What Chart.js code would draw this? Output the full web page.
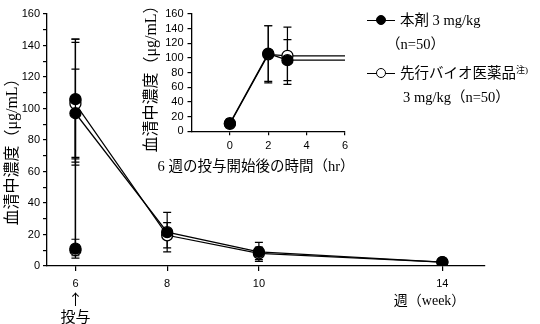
<!DOCTYPE html>
<html>
<head>
<meta charset="utf-8">
<script src="https://cdn.jsdelivr.net/npm/chart.js@4.4.0/dist/chart.umd.min.js"></script>
<style>
  html, body { margin: 0; padding: 0; background: #fff; }
  #wrap { position: relative; width: 540px; height: 324px; overflow: hidden; }
  #wrap canvas { position: absolute; left: 0; top: 0; }
  .leg { position: absolute; font-family: 'Liberation Serif', 'Noto Sans CJK JP', serif; font-size: 14.5px; line-height: 1; color: #000; white-space: nowrap; }
  .leg sup { font-size: 9px; vertical-align: 5px; }
  .ln { position: absolute; left: 367px; width: 28px; height: 1.4px; background: #000; }
  .dot { position: absolute; left: 376px; width: 8px; height: 8px; border: 1.4px solid #000; border-radius: 50%; }
</style>
</head>
<body>
<div id="wrap">
  <canvas id="mainChart" width="540" height="324"></canvas>
  <canvas id="insetChart" width="370" height="180"></canvas>

  <!-- leyenda -->
  <div class="ln" style="top:19.5px"></div>
  <div class="dot" style="top:15px; background:#000"></div>
  <div class="leg" style="left:400px; top:12.5px">本剤 3 mg/kg</div>
  <div class="leg" style="left:386px; top:36.5px">（n=50）</div>

  <div class="ln" style="top:72.5px"></div>
  <div class="dot" style="top:68px; background:#fff"></div>
  <div class="leg" style="left:400px; top:65.5px">先行バイオ医薬品<sup>注)</sup></div>
  <div class="leg" style="left:403px; top:89.5px">3 mg/kg（n=50）</div>
</div>

<script>
// valores leidos del grafico
// horas despues de la dosis en la semana 6
const hours = [0, 2, 3]
const hourTicks = [0, 2, 4, 6]
// semanas
const doseWeek = 6
const weeks = [8, 10, 14]
const weekTicks = [6, 8, 10, 14]

// 本剤 (circulos negros)
const drugHours = [11, 106, 97]
const drugHoursSd = [6, 38, 28]
const drugWeeks = [21.5, 9, 2.5]
const drugWeeksSd = [12.5, 6, 1]

// 先行バイオ医薬品 (circulos blancos)
const refHours = [10, 105, 103]
const refHoursSd = [3.5, 39, 39]
const refWeeks = [19.5, 8, 2.5]
const refWeeksSd = [8, 4, 1]

const yTitle = '血清中濃度（μg/mL）'
const insetXTitle = '6 週の投与開始後の時間（hr）'

const TICK_FONT = { family: "'Liberation Sans', Arial, sans-serif", size: 11 }
const TITLE_FONT = "16px 'Liberation Serif', 'Noto Sans CJK JP'"

// puntos de la grafica principal: las 3 tomas de la semana 6 y luego las semanas
function mainPoints(hourVals, weekVals) {
    let pts = []
    for (let i = 0; i < hourVals.length; i++) {
        pts.push({ x: doseWeek, y: hourVals[i] })
    }
    for (let i = 0; i < weekVals.length; i++) {
        pts.push({ x: weeks[i], y: weekVals[i] })
    }
    return pts
}

// puntos del grafico pequeño, la ultima linea sigue hasta el final del eje
function insetPoints(hourVals, xEnd) {
    let pts = []
    for (let i = 0; i < hourVals.length; i++) {
        pts.push({ x: hours[i], y: hourVals[i] })
    }
    pts.push({ x: xEnd, y: hourVals[hourVals.length - 1] })
    return pts
}

// barras de error (media +- DE) con las escalas de chart.js
const errorBars = {
    id: 'errorBars',
    beforeDatasetsDraw(chart) {
        const ctx = chart.ctx
        const yScale = chart.scales.y
        chart.data.datasets.forEach(function (ds, di) {
            if (!ds.sd) return
            const meta = chart.getDatasetMeta(di)
            ctx.save()
            ctx.strokeStyle = '#000'
            ctx.lineWidth = 1.2
            meta.data.forEach(function (pt, i) {
                const s = ds.sd[i]
                if (!s) return
                const v = ds.data[i].y
                const top = yScale.getPixelForValue(v + s)
                const bot = yScale.getPixelForValue(v - s)
                ctx.beginPath()
                ctx.moveTo(pt.x, top)
                ctx.lineTo(pt.x, bot)
                ctx.moveTo(pt.x - 4, top)
                ctx.lineTo(pt.x + 4, top)
                ctx.moveTo(pt.x - 4, bot)
                ctx.lineTo(pt.x + 4, bot)
                ctx.stroke()
            })
            ctx.restore()
        })
    }
}

// titulos de los ejes dibujados sin ancho maximo (chart.js los comprime)
function axisTitles(yx, yy, xText, xx, xy, xFont) {
    return {
        id: 'axisTitles',
        afterDraw(chart) {
            const ctx = chart.ctx
            ctx.save()
            ctx.fillStyle = '#000'
            ctx.textAlign = 'center'
            ctx.textBaseline = 'middle'
            ctx.font = TITLE_FONT
            ctx.translate(yx, yy)
            ctx.rotate(-Math.PI / 2)
            ctx.fillText(yTitle, 0, 0)
            ctx.restore()
            if (xText) {
                ctx.save()
                ctx.fillStyle = '#000'
                ctx.textAlign = 'center'
                ctx.textBaseline = 'middle'
                ctx.font = xFont
                ctx.fillText(xText, xx, xy)
                ctx.restore()
            }
        }
    }
}

// textos bajo el eje x principal
const bottomText = {
    id: 'bottomText',
    afterDraw(chart) {
        const ctx = chart.ctx
        const xs = chart.scales.x
        const x6 = xs.getPixelForValue(doseWeek)
        ctx.save()
        ctx.fillStyle = '#000'
        ctx.textAlign = 'center'
        ctx.textBaseline = 'middle'
        ctx.font = "15px 'Noto Sans CJK JP'"
        ctx.fillText('↑', x6, 299)
        ctx.fillText('投与', x6, 316)
        ctx.textAlign = 'right'
        ctx.font = "14px 'Liberation Serif', 'Noto Sans CJK JP'"
        ctx.fillText('週（week）', xs.getPixelForValue(weeks[weeks.length - 1]) + 23, 301)
        ctx.restore()
    }
}

function lineSet(points, sd, filled, radius) {
    return {
        data: points,
        sd: sd,
        showLine: true,
        borderColor: '#000',
        borderWidth: 1.3,
        tension: 0,
        pointRadius: radius,
        pointBorderWidth: 1.3,
        pointBorderColor: '#000',
        pointBackgroundColor: filled ? '#000' : '#fff'
    }
}

// grafico principal
new Chart(document.getElementById('mainChart'), {
    type: 'line',
    data: {
        datasets: [
            lineSet(mainPoints(drugHours, drugWeeks), drugHoursSd.concat(drugWeeksSd), true, 5.5),
            lineSet(mainPoints(refHours, refWeeks), refHoursSd.concat(refWeeksSd), false, 5.5)
        ]
    },
    options: {
        responsive: false,
        animation: false,
        layout: { padding: { top: 14, right: 55, left: 0, bottom: 0 } },
        plugins: { legend: { display: false }, tooltip: { enabled: false } },
        scales: {
            x: {
                type: 'linear',
                min: 5.38,
                max: 14.93,
                afterBuildTicks: function (s) { s.ticks = weekTicks.map(v => ({ value: v })) },
                afterFit: function (s) { s.height = 58 },
                grid: { drawOnChartArea: false, tickLength: 5, color: '#000', lineWidth: 1.2 },
                border: { color: '#000', width: 1.3 },
                ticks: { color: '#000', font: TICK_FONT, padding: 6, maxRotation: 0, autoSkip: false }
            },
            y: {
                min: 0,
                max: 160,
                afterFit: function (s) { s.width = 47 },
                grid: { drawOnChartArea: false, tickLength: 4, color: '#000', lineWidth: 1.2 },
                border: { color: '#000', width: 1.3 },
                ticks: {
                    stepSize: 10,
                    color: '#000',
                    font: TICK_FONT,
                    padding: 3,
                    autoSkip: false,
                    callback: v => (v % 20 === 0 ? v : '')
                }
            }
        }
    },
    plugins: [errorBars, bottomText, axisTitles(13, 148)]
})

// grafico pequeño (horas)
const insetMaxX = hourTicks[hourTicks.length - 1]
new Chart(document.getElementById('insetChart'), {
    type: 'line',
    data: {
        datasets: [
            lineSet(insetPoints(drugHours, insetMaxX), drugHoursSd, true, [5.5, 5.5, 5.5, 0]),
            lineSet(insetPoints(refHours, insetMaxX), refHoursSd, false, [5.5, 5.5, 5.5, 0])
        ]
    },
    options: {
        responsive: false,
        animation: false,
        layout: { padding: { top: 14, right: 25, left: 140, bottom: 0 } },
        plugins: { legend: { display: false }, tooltip: { enabled: false } },
        scales: {
            x: {
                type: 'linear',
                min: -2,
                max: insetMaxX,
                afterBuildTicks: function (s) { s.ticks = hourTicks.map(v => ({ value: v })) },
                afterFit: function (s) { s.height = 48.7 },
                grid: { drawOnChartArea: false, tickLength: 4, color: '#000', lineWidth: 1.2 },
                border: { color: '#000', width: 1.3 },
                ticks: { color: '#000', font: TICK_FONT, padding: 4, maxRotation: 0, autoSkip: false }
            },
            y: {
                min: 0,
                max: 160,
                afterFit: function (s) { s.width = 51.5 },
                grid: { drawOnChartArea: false, tickLength: 4, color: '#000', lineWidth: 1.2 },
                border: { color: '#000', width: 1.3 },
                ticks: { stepSize: 20, color: '#000', font: TICK_FONT, padding: 4, autoSkip: false }
            }
        }
    },
    plugins: [errorBars, axisTitles(152, 75, insetXTitle, 256, 167, "14.5px 'Liberation Serif', 'Noto Sans CJK JP'")]
})
</script>
</body>
</html>
